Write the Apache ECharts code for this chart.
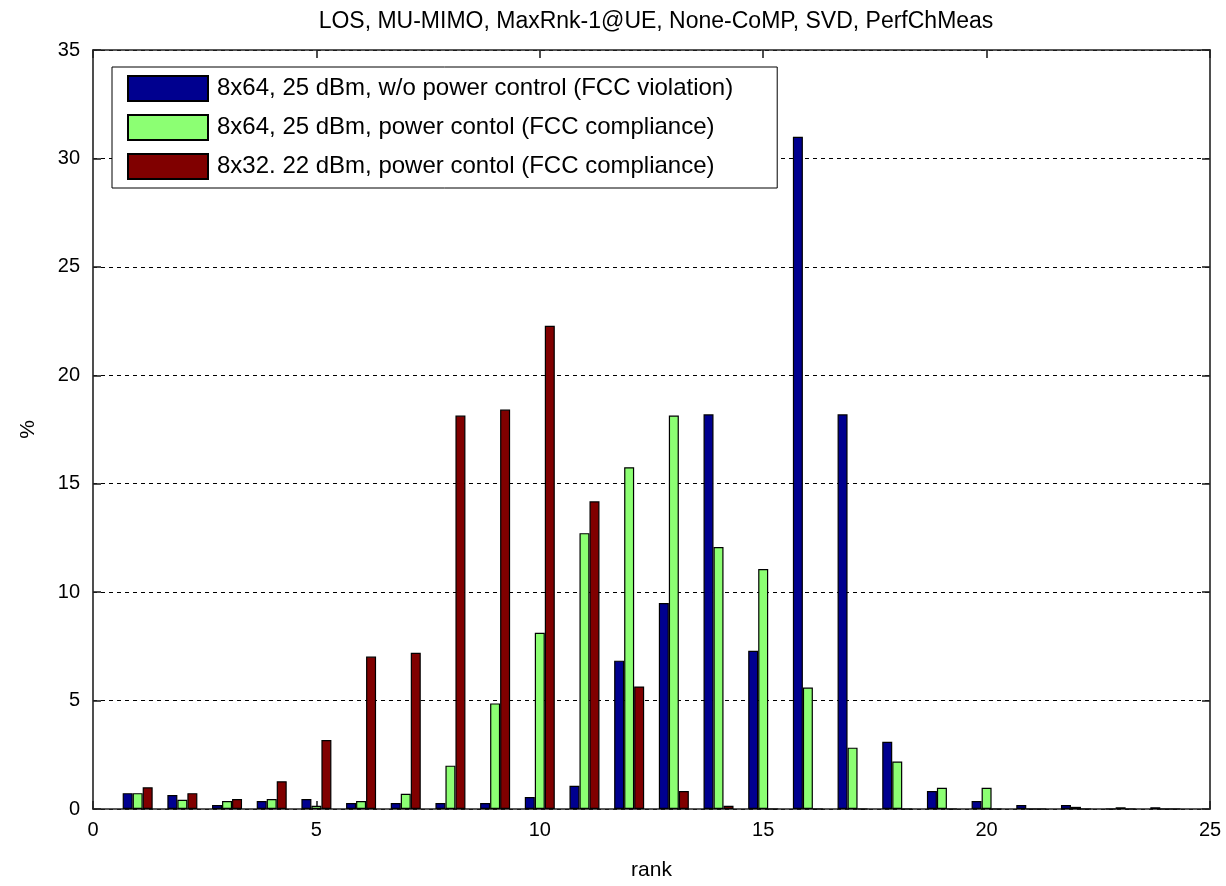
<!DOCTYPE html>
<html>
<head>
<meta charset="utf-8">
<script src="https://cdn.jsdelivr.net/npm/echarts@6/dist/echarts.min.js"></script>
<style>html,body{margin:0;padding:0;background:#fff;}#c{width:1226px;height:886px;}</style>
</head>
<body>
<div id="c"></div>
<script>
const titleText = 'LOS, MU-MIMO, MaxRnk-1@UE, None-CoMP, SVD, PerfChMeas';
const seriesNames = [
  '8x64, 25 dBm, w/o power control (FCC violation)',
  '8x64, 25 dBm, power contol (FCC compliance)',
  '8x32. 22 dBm, power contol (FCC compliance)'
];
const ranks = [1,2,3,4,5,6,7,8,9,10,11,12,13,14,15,16,17,18,19,20,21,22,23,24];
const blueVals  = [0.73,0.64,0.18,0.37,0.46,0.28,0.28,0.28,0.28,0.55,1.07,6.84,9.5,18.2,7.3,31.0,18.2,3.1,0.83,0.37,0.18,0.18,0,0.08];
const greenVals = [0.73,0.43,0.37,0.46,0.15,0.37,0.7,2.0,4.87,8.13,12.72,15.76,18.14,12.08,11.07,5.6,2.83,2.19,0.98,0.98,0,0.1,0.08,0];
const redVals   = [1.0,0.73,0.46,1.28,3.18,7.03,7.2,18.14,18.42,22.28,14.19,5.65,0.83,0.15,0,0,0,0,0,0,0,0,0,0];
const xTicks = {min: 0, max: 25, interval: 5};
const yTicks = {min: 0, max: 35, interval: 5};
const colors = ['#00008F', '#8CFF73', '#800000'];

const chart = echarts.init(document.getElementById('c'));
const font = 'Liberation Sans, Arial, sans-serif';
const axisLineStyle = {color: '#222', width: 1.6};
const pairs = vals => ranks.map((r, i) => [r, vals[i]]);

chart.setOption({
  animation: false,
  backgroundColor: '#fff',
  title: {
    text: titleText, left: 651, top: 5, textAlign: 'center',
    textStyle: {fontFamily: font, fontSize: 23, fontWeight: 'normal', color: '#000'}
  },
  legend: {
    orient: 'vertical', left: 112, top: 67,
    data: seriesNames,
    itemWidth: 80, itemHeight: 25, itemGap: 12,
    padding: [8, 44, 8, 15],
    borderColor: '#000', borderWidth: 1, backgroundColor: '#fff',
    icon: 'rect',
    textStyle: {fontFamily: font, fontSize: 24, color: '#000', padding: [0, 0, 0, 4]}
  },
  grid: {left: 93, right: 16, top: 50, bottom: 76, show: false},
  xAxis: [{
    type: 'value', min: xTicks.min, max: xTicks.max, interval: xTicks.interval,
    name: 'rank', nameLocation: 'middle', nameGap: 51,
    nameTextStyle: {fontFamily: font, fontSize: 21, color: '#000'},
    axisLine: {show: true, lineStyle: axisLineStyle, onZero: false},
    axisTick: {show: true, inside: true, length: 8, lineStyle: axisLineStyle},
    axisLabel: {fontFamily: font, fontSize: 20, color: '#000', margin: 11},
    splitLine: {show: false}
  }, {
    type: 'value', position: 'top', min: xTicks.min, max: xTicks.max, interval: xTicks.interval,
    axisLine: {show: true, lineStyle: axisLineStyle, onZero: false},
    axisTick: {show: true, inside: true, length: 8, lineStyle: axisLineStyle},
    axisLabel: {show: false}, splitLine: {show: false}
  }],
  yAxis: [{
    type: 'value', min: yTicks.min, max: yTicks.max, interval: yTicks.interval,
    name: '%', nameLocation: 'middle', nameGap: 54, nameRotate: 90,
    nameTextStyle: {fontFamily: font, fontSize: 21, color: '#000'},
    axisLine: {show: true, lineStyle: axisLineStyle, onZero: false},
    axisTick: {show: true, inside: true, length: 8, lineStyle: axisLineStyle},
    axisLabel: {fontFamily: font, fontSize: 20, color: '#000', margin: 13},
    splitLine: {show: true, lineStyle: {color: '#000', width: 1, type: [4, 4]}}
  }, {
    type: 'value', position: 'right', min: yTicks.min, max: yTicks.max, interval: yTicks.interval,
    axisLine: {show: true, lineStyle: axisLineStyle, onZero: false},
    axisTick: {show: true, inside: true, length: 8, lineStyle: axisLineStyle},
    axisLabel: {show: false}, splitLine: {show: false}
  }],
  series: [blueVals, greenVals, redVals].map((vals, i) => ({
    name: seriesNames[i], type: 'bar', xAxisIndex: 0, yAxisIndex: 0,
    data: pairs(vals),
    barWidth: 10, barGap: '0%',
    itemStyle: {color: colors[i], borderColor: '#000', borderWidth: 1.2}
  }))
});
</script>
</body>
</html>
